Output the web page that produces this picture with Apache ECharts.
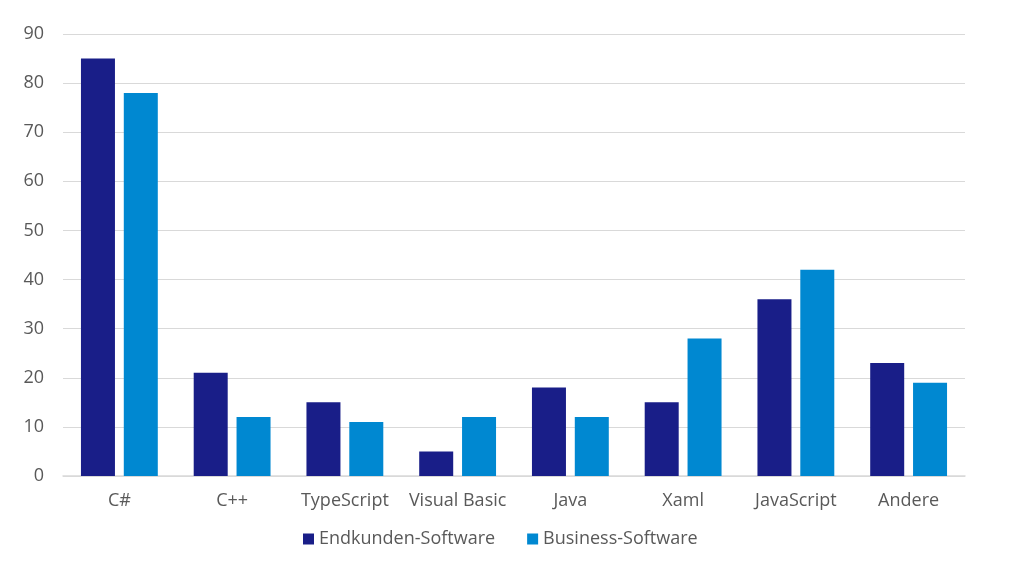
<!DOCTYPE html>
<html><head><meta charset="utf-8">
<script src="https://cdn.jsdelivr.net/npm/echarts@6/dist/echarts.min.js"></script>
<style>html,body{margin:0;padding:0;background:#fff}#c{width:1024px;height:563px}</style>
</head><body><div id="c"></div>
<script>
const categories = ['C#','C++','TypeScript','Visual Basic','Java','Xaml','JavaScript','Andere'];
const endkunden = [85,21,15,5,18,15,36,23];
const business = [78,12,11,12,12,28,42,19];
const seriesNames = ['Endkunden-Software','Business-Software'];
const chart = echarts.init(document.getElementById('c'));
const font = '"Open Sans", "Noto Sans", sans-serif';
chart.setOption({
  animation:false,
  textStyle:{fontFamily:font},
  grid:{left:63,right:59,top:34,bottom:87},
  legend:{bottom:10,left:298,itemWidth:11,itemHeight:11,itemGap:32,icon:'rect',
    textStyle:{fontSize:18,color:'#595959',fontFamily:font}},
  xAxis:{type:'category',data:categories,
    axisLine:{lineStyle:{color:'#d9d9d9',width:1.5}},axisTick:{show:false},
    axisLabel:{fontSize:18,color:'#595959',margin:16,interval:0,fontFamily:font}},
  yAxis:{type:'value',min:0,max:90,interval:10,
    axisLine:{show:false},axisTick:{show:false},
    splitLine:{lineStyle:{color:'#d9d9d9',width:1}},
    axisLabel:{fontSize:18,color:'#595959',margin:19,fontFamily:font}},
  series:[
    {name:seriesNames[0],type:'bar',data:endkunden,barWidth:34,barGap:'26%',itemStyle:{color:'#191e88'}},
    {name:seriesNames[1],type:'bar',data:business,barWidth:34,itemStyle:{color:'#0088d1'}}
  ]
});
</script></body></html>
